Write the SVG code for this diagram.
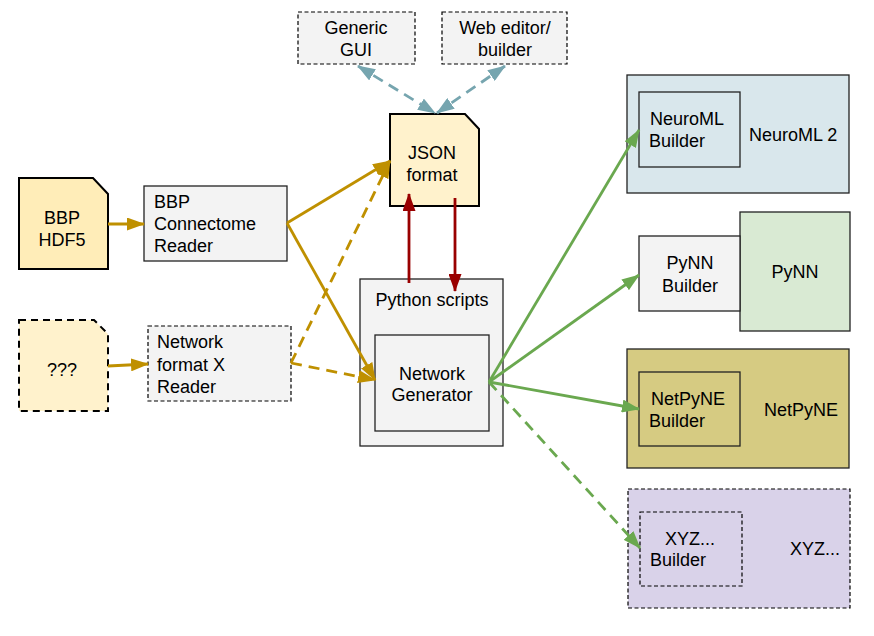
<svg xmlns="http://www.w3.org/2000/svg" width="874" height="636" viewBox="0 0 874 636">
<style>
text{font-family:"Liberation Sans",Arial,sans-serif;font-size:18px;fill:#000}
.m{text-anchor:middle}
.box{stroke:#222;stroke-width:1.3}
.dbox{stroke:#000;stroke-width:1.2;stroke-dasharray:4,2.5}
.doc{stroke:#000;stroke-width:2}
.c{fill:none;stroke-width:2.8}
.gold{stroke:#bf9000}
.green{stroke:#6aa84f}
.teal{stroke:#76a5af}
.red{stroke:#990000}
.dash{stroke-dasharray:11,7}
</style>
<defs>
<marker id="ag" markerUnits="userSpaceOnUse" markerWidth="18" markerHeight="13" refX="17" refY="6.5" orient="auto-start-reverse" viewBox="0 0 18 13"><path d="M0,0 L18,6.5 L0,13 z" fill="#bf9000"/></marker>
<marker id="an" markerUnits="userSpaceOnUse" markerWidth="18" markerHeight="13" refX="17" refY="6.5" orient="auto-start-reverse" viewBox="0 0 18 13"><path d="M0,0 L18,6.5 L0,13 z" fill="#6aa84f"/></marker>
<marker id="at" markerUnits="userSpaceOnUse" markerWidth="18" markerHeight="13" refX="17" refY="6.5" orient="auto-start-reverse" viewBox="0 0 18 13"><path d="M0,0 L18,6.5 L0,13 z" fill="#76a5af"/></marker>
<marker id="ar" markerUnits="userSpaceOnUse" markerWidth="18" markerHeight="13" refX="17" refY="6.5" orient="auto-start-reverse" viewBox="0 0 18 13"><path d="M0,0 L18,6.5 L0,13 z" fill="#990000"/></marker>
</defs>

<g id="generic-gui">
<rect x="298" y="12" width="117" height="52" fill="#f3f3f3" class="dbox"/>
<text x="356" y="34" class="m">Generic</text>
<text x="356" y="56" class="m">GUI</text>
</g>
<g id="web-editor">
<rect x="442" y="12" width="125" height="52" fill="#f3f3f3" class="dbox"/>
<text x="505" y="34" class="m">Web editor/</text>
<text x="505" y="56" class="m">builder</text>
</g>
<g id="json">
<path d="M390,114 H465 L479,129 V206 H390 Z" fill="#fff2cc" class="doc"/>
<text x="432" y="159" class="m">JSON</text>
<text x="432" y="181" class="m">format</text>
</g>
<g id="bbp-hdf5">
<path d="M19,178 H93 L108,194 V269 H19 Z" fill="#ffedb8" class="doc"/>
<text x="62" y="224" class="m">BBP</text>
<text x="62" y="246" class="m">HDF5</text>
</g>
<g id="unknown-format">
<path d="M19,320 H94 L108,334 V411 H19 Z" fill="#fff2cc" class="doc" stroke-dasharray="7,5"/>
<text x="62" y="376" class="m">???</text>
</g>
<g id="bbp-reader">
<rect x="144" y="186" width="143" height="75" fill="#f3f3f3" class="box"/>
<text x="154" y="208">BBP</text>
<text x="154" y="230">Connectome</text>
<text x="154" y="252">Reader</text>
</g>
<g id="netx-reader">
<rect x="148" y="326" width="143" height="75" fill="#f3f3f3" class="dbox"/>
<text x="157" y="348">Network</text>
<text x="157" y="371">format X</text>
<text x="157" y="393">Reader</text>
</g>
<g id="python-scripts">
<rect x="360" y="279" width="143" height="167" fill="#f3f3f3" class="box"/>
<text x="432" y="306" class="m">Python scripts</text>
</g>
<g id="network-generator">
<rect x="375" y="335" width="114" height="96" fill="#f3f3f3" class="box"/>
<text x="432" y="380" class="m">Network</text>
<text x="432" y="401" class="m">Generator</text>
</g>
<g id="neuroml2">
<rect x="627" y="75" width="222" height="118" fill="#d9e7ec" class="box"/>
<text x="749" y="141">NeuroML 2</text>
</g>
<g id="neuroml-builder">
<rect x="639" y="92" width="101" height="75" fill="#d9e7ec" class="box"/>
<text x="650" y="125">NeuroML</text>
<text x="649" y="147">Builder</text>
</g>
<g id="pynn">
<rect x="740" y="212" width="110" height="119" fill="#d9ead3" class="box"/>
<text x="795" y="278" class="m">PyNN</text>
</g>
<g id="pynn-builder">
<rect x="639" y="236" width="101" height="75" fill="#f3f3f3" class="box"/>
<text x="690" y="269" class="m">PyNN</text>
<text x="690" y="292" class="m">Builder</text>
</g>
<g id="netpyne">
<rect x="627" y="349" width="222" height="119" fill="#d6cb82" class="box"/>
<text x="764" y="416">NetPyNE</text>
</g>
<g id="netpyne-builder">
<rect x="639" y="372" width="101" height="74" fill="#d6cb82" class="box"/>
<text x="651" y="405">NetPyNE</text>
<text x="649" y="427">Builder</text>
</g>
<g id="xyz">
<rect x="628" y="489" width="222" height="119" fill="#d9d2e9" class="dbox"/>
<text x="790" y="555">XYZ...</text>
</g>
<g id="xyz-builder">
<rect x="640" y="512" width="102" height="74" fill="#d9d2e9" class="dbox"/>
<text x="665" y="545">XYZ...</text>
<text x="650" y="566">Builder</text>
</g>

<g id="connectors">
<line x1="358" y1="66" x2="435" y2="113" class="c teal dash" marker-start="url(#at)" marker-end="url(#at)"/>
<line x1="505" y1="66" x2="437" y2="113" class="c teal dash" marker-start="url(#at)" marker-end="url(#at)"/>
<line x1="108" y1="224" x2="144" y2="224" class="c gold" marker-end="url(#ag)"/>
<line x1="108" y1="366" x2="148" y2="364" class="c gold" marker-end="url(#ag)"/>
<line x1="291" y1="363" x2="390" y2="161" class="c gold dash" marker-end="url(#ag)"/>
<line x1="291" y1="363" x2="375" y2="380" class="c gold dash" marker-end="url(#ag)"/>
<line x1="287" y1="223" x2="390" y2="161" class="c gold" marker-end="url(#ag)"/>
<line x1="287" y1="223" x2="375" y2="380" class="c gold" marker-end="url(#ag)"/>
<line x1="409" y1="283" x2="409" y2="194" class="c red" marker-end="url(#ar)"/>
<line x1="455" y1="198" x2="455" y2="291" class="c red" marker-end="url(#ar)"/>
<line x1="489" y1="382" x2="639" y2="130" class="c green" marker-end="url(#an)"/>
<line x1="489" y1="382" x2="639" y2="275" class="c green" marker-end="url(#an)"/>
<line x1="489" y1="382" x2="639" y2="409" class="c green" marker-end="url(#an)"/>
<line x1="489" y1="382" x2="640" y2="548" class="c green dash" marker-end="url(#an)"/>
</g>
</svg>
